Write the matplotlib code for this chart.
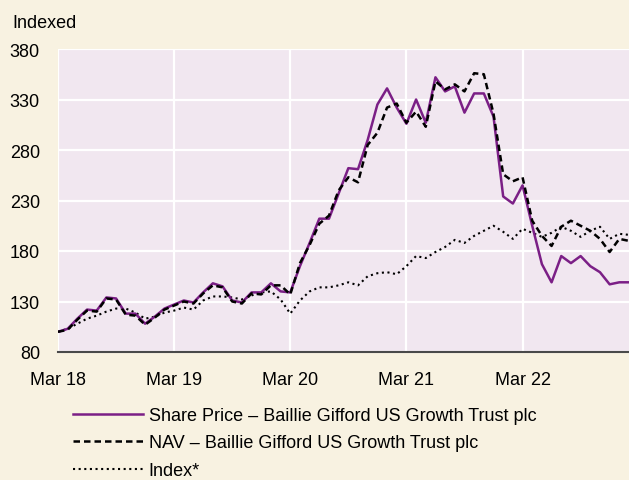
import matplotlib.pyplot as plt

plt.rcParams['font.family'] = ['Liberation Sans', 'DejaVu Sans']

# monthly, Mar 18 .. Feb 23
share_price = [100, 103, 113, 122, 121, 134, 133, 118, 118, 108, 115, 123,
               127, 131, 129, 139, 148, 145, 131, 129, 139, 139, 148, 140,
               139, 165, 188, 212, 212, 237, 262, 261, 290, 325, 341, 322,
               306, 330, 307, 352, 338, 343, 317, 336, 336, 313, 234, 227,
               245, 205, 167, 149, 175, 168, 175, 165, 159, 147, 149, 149]
nav = [100, 102, 112, 121, 120, 133, 132, 117, 116, 107, 114, 122,
       126, 130, 128, 138, 146, 144, 130, 128, 138, 137, 146, 146,
       137, 168, 186, 207, 215, 240, 253, 248, 285, 297, 322, 326,
       307, 318, 303, 348, 340, 345, 338, 356, 355, 316, 256, 249,
       253, 210, 195, 185, 204, 210, 205, 200, 192, 179, 192, 190]
index = [100, 103, 108, 113, 116, 120, 123, 123, 119, 113, 115, 119,
         121, 124, 122, 131, 135, 135, 134, 132, 136, 139, 140, 132,
         118, 131, 140, 144, 144, 146, 149, 146, 155, 158, 159, 157,
         165, 175, 173, 179, 184, 191, 188, 195, 200, 205, 199, 192,
         202, 198, 194, 198, 204, 200, 194, 200, 204, 192, 197, 196]

tick_labels = ['Mar 18', 'Mar 19', 'Mar 20', 'Mar 21', 'Mar 22']
y_ticks = [80, 130, 180, 230, 280, 330, 380]

labels = ['Share Price \u2013 Baillie Gifford US Growth Trust plc',
          'NAV \u2013 Baillie Gifford US Growth Trust plc',
          'Index*']

bg = '#f8f2e1'
plot_bg = '#f1e7f0'
purple = '#7b1f86'

W, H = 629, 481
fig = plt.figure(figsize=(W / 100, H / 100), dpi=100, facecolor=bg)
ax = fig.add_axes([58 / W, 1 - 353 / H, (W - 58) / W, (353 - 50) / H])
ax.set_facecolor(plot_bg)

months = list(range(len(share_price)))
l1, = ax.plot(months, share_price, color=purple, lw=1.8, zorder=3)
l2, = ax.plot(months, nav, color='black', lw=1.8, dashes=(2.6, 1.6), zorder=4)
l3, = ax.plot(months, index, color='black', lw=1.5, dashes=(1, 1.7), zorder=2)

ax.set_xlim(0, 59)
ax.set_ylim(80, 380)
ax.set_xticks([0, 12, 24, 36, 48])
ax.set_xticklabels(tick_labels)
ax.set_yticks(y_ticks)
ax.tick_params(length=0, labelsize=13, colors='black')
ax.tick_params(axis='y', pad=13)
ax.tick_params(axis='x', pad=14)
ax.grid(True, color='white', lw=1.6)
ax.set_axisbelow(True)
for s in ['top', 'right', 'left']:
    ax.spines[s].set_visible(False)
ax.spines['bottom'].set_color('#4a4a4a')
ax.spines['bottom'].set_linewidth(1.5)
ax.spines['bottom'].set_zorder(5)

fig.text(12 / W, 1 - 23 / H, 'Indexed', fontsize=13, va='center', ha='left')

fig.legend([l1, l2, l3], labels, loc='upper left',
           bbox_to_anchor=(73 / W, 1 - 408 / H), frameon=False,
           fontsize=13, handlelength=3.85, handletextpad=0.35,
           labelspacing=0.58, borderpad=0, borderaxespad=0)

fig.savefig('out.png', dpi=100, facecolor=bg)
